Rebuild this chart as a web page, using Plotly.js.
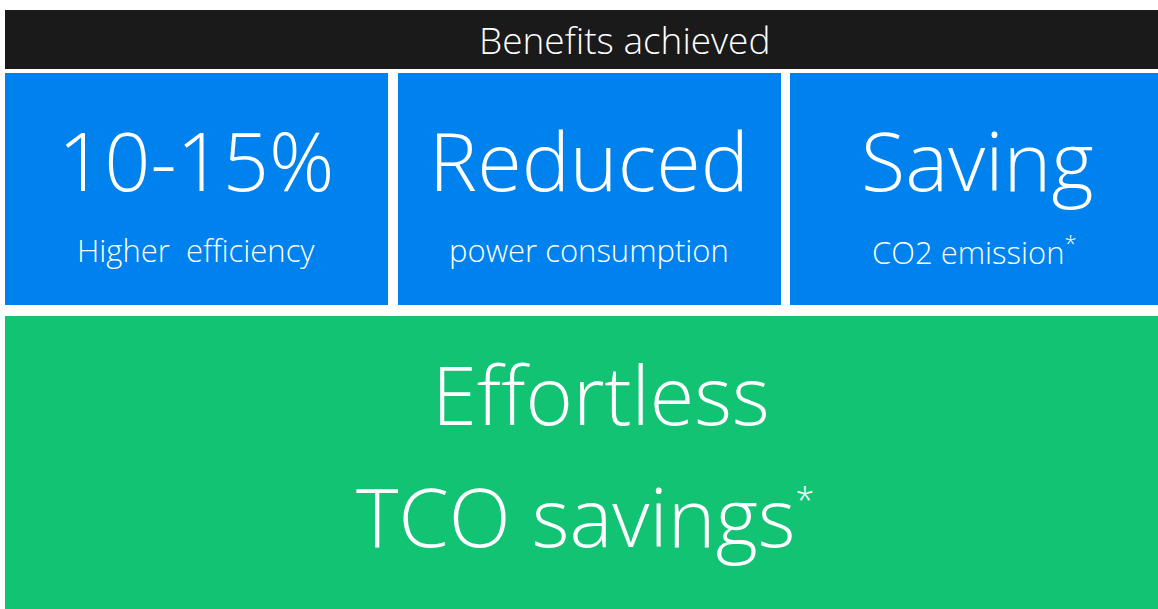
<!DOCTYPE html>
<html>
<head>
<meta charset="utf-8">
<script src="https://cdn.plot.ly/plotly-3.0.1.min.js"></script>
<style>
  html, body { margin: 0; padding: 0; background: #ffffff; }
  #myDiv { width: 1158px; height: 609px; }
</style>
</head>
<body>
<div id="myDiv"></div>
<script>
// content of the panel
var headerTitle = 'Benefits achieved';
var headlines = ['10-15%', 'Reduced', 'Saving'];
var captions = ['Higher  efficiency', 'power consumption', 'CO2 emission'];
var captionNotes = ['', '', '*'];
var summaryLines = ['Effortless', 'TCO savings'];
var summaryNote = '*';

// layout of the tiles, in pixel units of the axes
var tileX0 = [5, 398, 790];
var tileX1 = [388, 781, 1158];
var headlineX = [196, 589, 977];
var captionX = [196, 589, 974];

var blue = '#0082ee';
var green = '#12c373';
var dark = '#1a1a1a';
var font = 'Open Sans, sans-serif';

function note(txt, size) {
    return '<sup><span style="font-size:' + size + 'px">' + txt + '</span></sup>';
}

function chartLoad() {
    var shapes = [];
    var annotations = [];

    shapes.push({ type: 'rect', xref: 'x', yref: 'y', x0: 5, x1: 1158, y0: 10, y1: 69,
        fillcolor: dark, line: { width: 0 }, layer: 'below' });
    annotations.push({ xref: 'x', yref: 'y', x: 624, y: 39, text: headerTitle, showarrow: false,
        font: { family: font, size: 37, weight: 300, color: '#ffffff' } });

    for (var i = 0; i < headlines.length; i++) {
        shapes.push({ type: 'rect', xref: 'x', yref: 'y', x0: tileX0[i], x1: tileX1[i], y0: 73, y1: 305,
            fillcolor: blue, line: { width: 0 }, layer: 'below' });
        annotations.push({ xref: 'x', yref: 'y', x: headlineX[i], y: 159, text: headlines[i], showarrow: false,
            font: { family: font, size: 81, weight: 300, color: '#ffffff' } });
        var cap = captions[i].replace(/  /g, ' &nbsp;');
        if (captionNotes[i]) cap += note(captionNotes[i], 22);
        annotations.push({ xref: 'x', yref: 'y', x: captionX[i], y: 250, text: cap, showarrow: false,
            font: { family: font, size: 31, weight: 300, color: '#ffffff' } });
    }

    shapes.push({ type: 'rect', xref: 'x', yref: 'y', x0: 5, x1: 1158, y0: 316, y1: 609,
        fillcolor: green, line: { width: 0 }, layer: 'below' });
    annotations.push({ xref: 'x', yref: 'y', x: 601, y: 393, text: summaryLines[0], showarrow: false,
        font: { family: font, size: 81, weight: 300, color: '#ffffff' } });
    annotations.push({ xref: 'x', yref: 'y', x: 585, y: 515, text: summaryLines[1] + note(summaryNote, 34),
        showarrow: false, font: { family: font, size: 81, weight: 300, color: '#ffffff' } });

    var data = [{ x: [0, 1158], y: [0, 609], mode: 'markers', marker: { opacity: 0 },
        hoverinfo: 'skip', showlegend: false }];
    var layout = {
        width: 1158,
        height: 609,
        margin: { l: 0, r: 0, t: 0, b: 0 },
        paper_bgcolor: '#ffffff',
        plot_bgcolor: '#ffffff',
        xaxis: { range: [0, 1158], visible: false, fixedrange: true },
        yaxis: { range: [609, 0], visible: false, fixedrange: true },
        shapes: shapes,
        annotations: annotations,
        showlegend: false
    };
    Plotly.newPlot('myDiv', data, layout, { displayModeBar: false, staticPlot: true });
}
chartLoad();
</script>
</body>
</html>
